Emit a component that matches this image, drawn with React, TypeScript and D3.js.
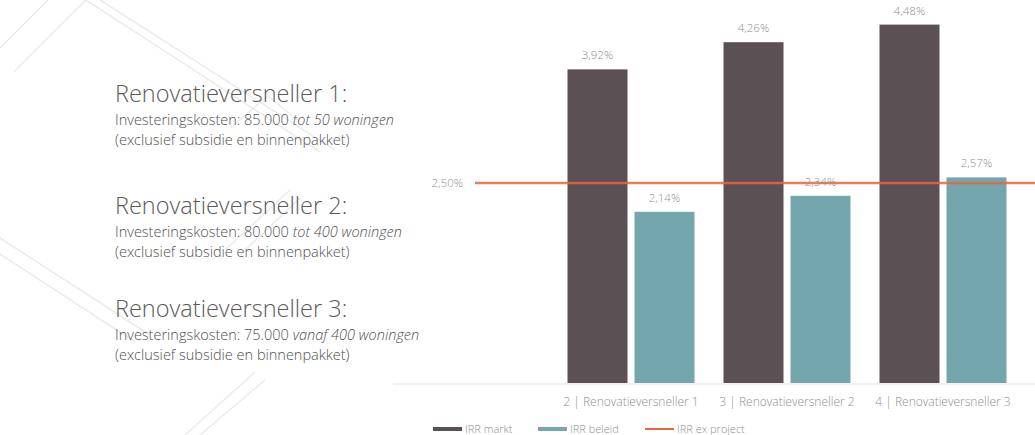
import React from 'react';
import * as d3 from 'd3';

// data
const categories = ['2 | Renovatieversneller 1', '3 | Renovatieversneller 2', '4 | Renovatieversneller 3'];
const irrMarkt = [3.92, 4.26, 4.48];
const irrBeleid = [2.14, 2.34, 2.57];
const irrExProject = 2.5;
const seriesNames = ['IRR markt', 'IRR beleid', 'IRR ex project'];

const blockTitles = ['Renovatieversneller 1:', 'Renovatieversneller 2:', 'Renovatieversneller 3:'];
const blockCosts = ['85.000', '80.000', '75.000'];
const blockRanges = ['tot 50 woningen', 'tot 400 woningen', 'vanaf 400 woningen'];

const W = 1035;
const H = 435;
const colors = ['#5b5053', '#74a6ad', '#e5673d'];
const font = '"Open Sans", "Noto Sans", sans-serif';

const fmt = (v: number) => d3.format('.2f')(v).replace('.', ',') + '%';

const App: React.FC = () => {
  const x0 = d3.scaleBand<string>().domain(categories).range([553, 1021]).padding(0);
  const x1 = d3.scaleBand<string>()
    .domain(seriesNames.slice(0, 2))
    .range([14.5, x0.bandwidth() - 14.5])
    .paddingInner(0.1045)
    .paddingOuter(0);
  const y = d3.scaleLinear().domain([0, 5]).range([383, -17]);

  const series = [irrMarkt, irrBeleid];

  // faint background decoration
  const deco = [
    'M0,48 L48,0', 'M14,72 L86,0', 'M100,0 L335,150', 'M86,0 L320,152',
    'M230,128 L268,96 L300,122', 'M225,250 L290,190', 'M240,255 L300,198',
    'M0,238 L150,335', 'M0,254 L135,342', 'M185,435 L255,372', 'M200,435 L265,380',
  ];

  return (
    <svg width={W} height={H} style={{ position: 'absolute', left: 0, top: 0, background: '#fff' }}
      fontFamily={font}>
      <g fill="none" stroke="#ebebeb" strokeWidth={1.5}>
        {deco.map((d, i) => <path key={i} d={d} />)}
      </g>

      {/* left text blocks */}
      {blockTitles.map((t, i) => {
        const base = [102, 214, 317][i];
        return (
          <g key={t} fill="#5a5a5a">
            <text x={115} y={base} fontSize={23.5} fontWeight={300}>{t}</text>
            <text x={115} y={base + 23} fontSize={14.5} fontWeight={300} fill="#4f4f4f">
              Investeringskosten: {blockCosts[i]}{' '}
              <tspan fontStyle="italic">{blockRanges[i]}</tspan>
            </text>
            <text x={115} y={base + 43} fontSize={14.5} fontWeight={300} fill="#4f4f4f">
              (exclusief subsidie en binnenpakket)
            </text>
          </g>
        );
      })}

      {/* baseline */}
      <line x1={393} x2={W} y1={y(0) + 1} y2={y(0) + 1} stroke="#e2e2e2" strokeWidth={1} />

      {/* bars */}
      {categories.map((c, ci) => (
        <g key={c} transform={`translate(${x0(c)},0)`}>
          {series.map((s, si) => (
            <rect key={si}
              x={x1(seriesNames[si])}
              y={y(s[ci])}
              width={x1.bandwidth()}
              height={y(0) - y(s[ci])}
              fill={colors[si]} />
          ))}
        </g>
      ))}

      {/* ex project line */}
      <line x1={475} x2={W} y1={y(irrExProject)} y2={y(irrExProject)}
        stroke={colors[2]} strokeWidth={2.5} strokeOpacity={0.85} />
      <text x={463} y={y(irrExProject) + 4} textAnchor="end" fontSize={11.5} fontWeight={300} fill="#8f8f8f">
        {fmt(irrExProject)}
      </text>

      {/* value labels */}
      {categories.map((c, ci) => (
        <g key={c} transform={`translate(${x0(c)},0)`}>
          {series.map((s, si) => (
            <text key={si}
              x={(x1(seriesNames[si]) || 0) + x1.bandwidth() / 2}
              y={y(s[ci]) - 10}
              textAnchor="middle" fontSize={11.5} fontWeight={300} fill="#8f8f8f">
              {fmt(s[ci])}
            </text>
          ))}
        </g>
      ))}

      {/* category labels */}
      {categories.map(c => (
        <text key={c} x={(x0(c) || 0) + x0.bandwidth() / 2} y={406}
          textAnchor="middle" fontSize={12} fontWeight={300} fill="#8f8f8f">{c}</text>
      ))}

      {/* legend */}
      {seriesNames.map((n, i) => {
        const lx = [433, 538, 645][i];
        return (
          <g key={n}>
            <line x1={lx} x2={lx + 29} y1={429} y2={429} stroke={colors[i]}
              strokeWidth={i === 2 ? 2 : 4} />
            <text x={lx + 32} y={433} fontSize={11} fontWeight={300} fill="#8f8f8f">{n}</text>
          </g>
        );
      })}
    </svg>
  );
};

export default App;
